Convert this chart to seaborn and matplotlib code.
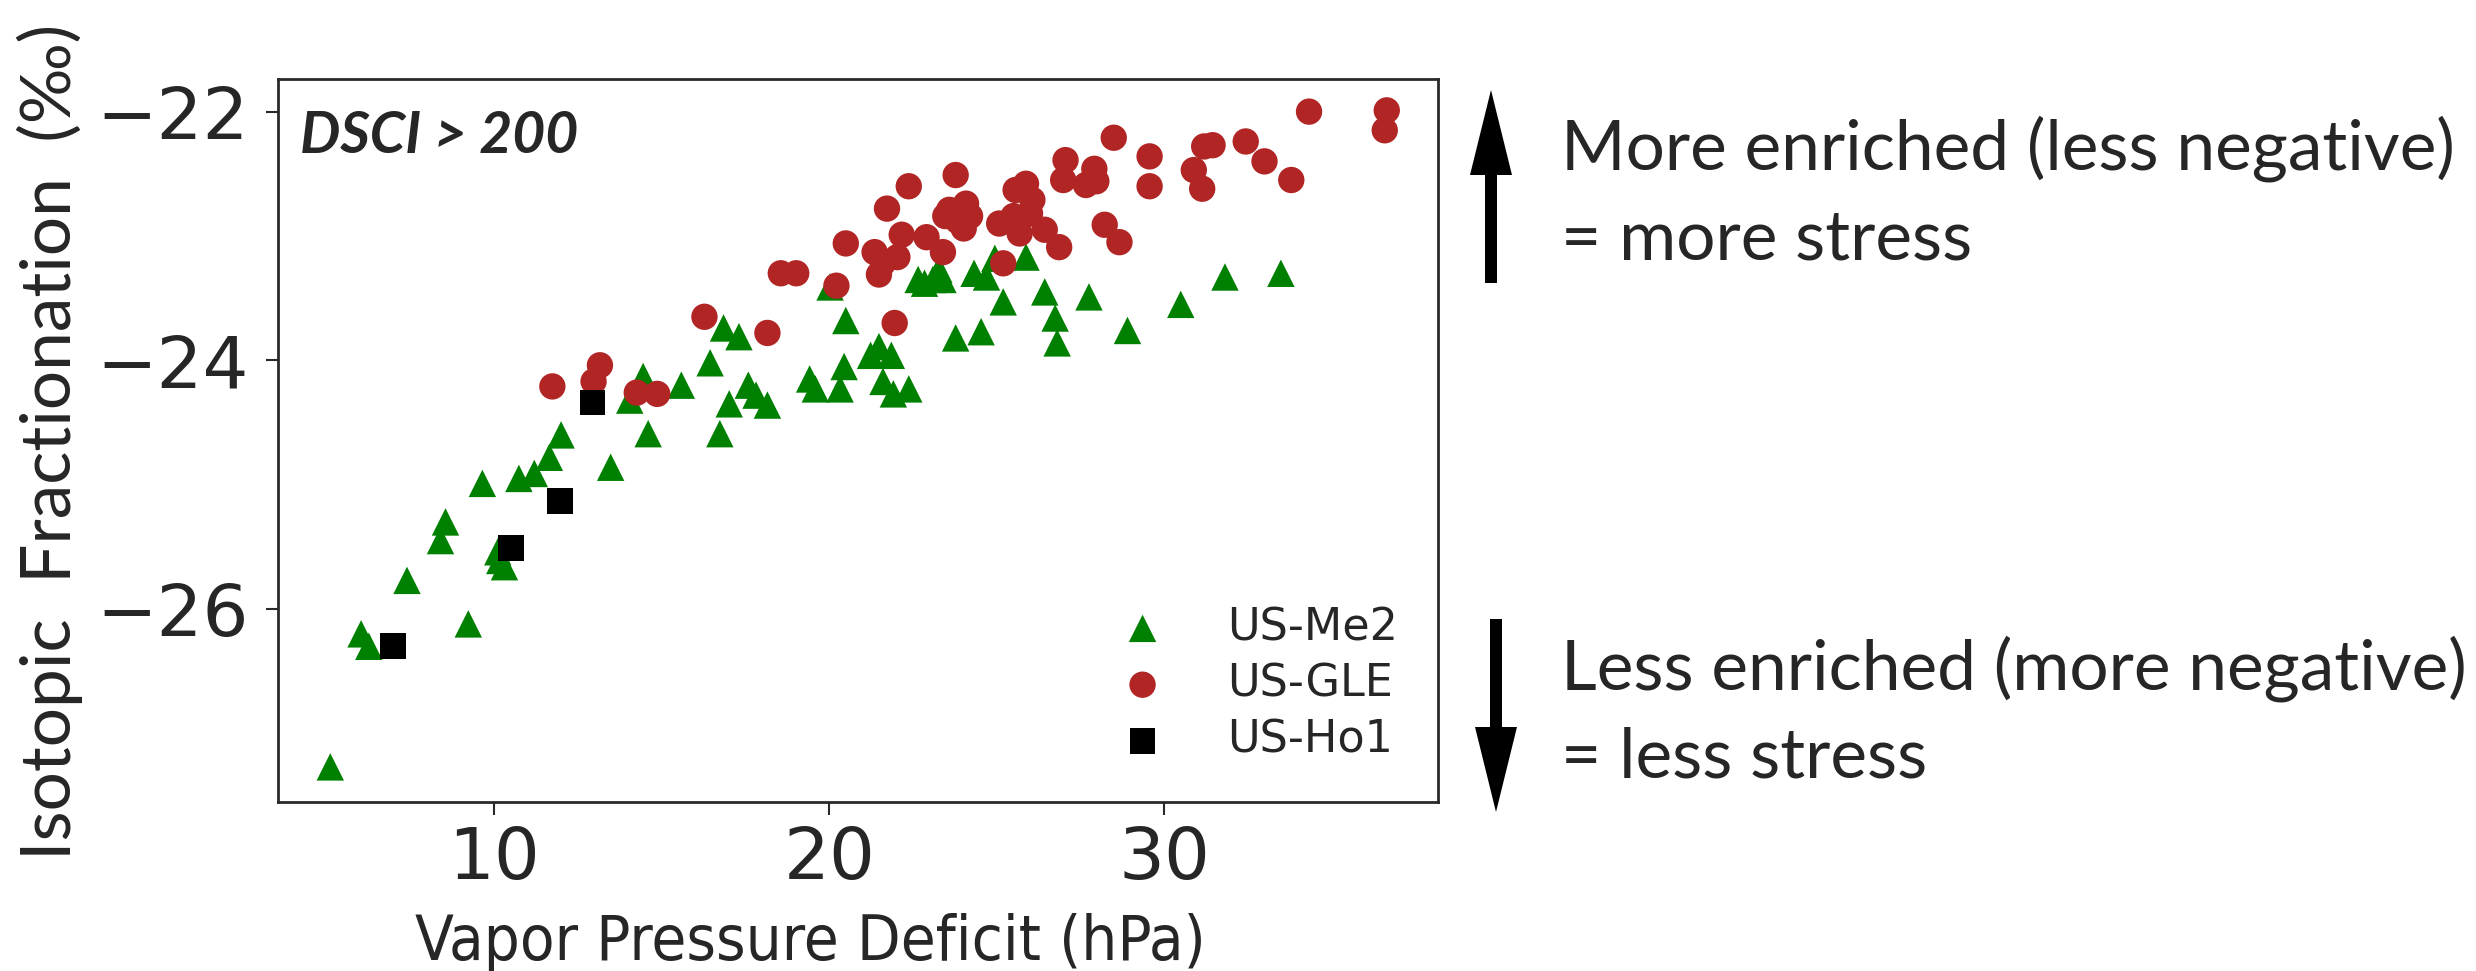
import numpy as np
import pandas as pd
import matplotlib
matplotlib.use("Agg")
import matplotlib.pyplot as plt
import seaborn as sns

# ---------------- data ----------------
sites = ["US-Me2", "US-GLE", "US-Ho1"]

me2_vpd = [20.49, 20.02, 16.84, 17.30, 16.44, 20.44, 19.41, 19.58, 20.32, 17.58, 17.81, 18.15,
           17.01, 15.58, 14.44, 14.04, 14.59, 16.73, 11.99, 11.64, 13.47, 11.19, 10.73, 9.64,
           8.54, 8.39, 7.39, 10.10, 10.16, 10.30, 9.22, 6.02, 6.25, 5.10, 33.48, 31.81, 30.49,
           27.75, 28.90, 26.43, 26.74, 26.80, 25.87, 25.19, 24.32, 24.69, 24.94, 22.65, 22.84,
           23.27, 23.09, 23.39, 23.77, 24.53, 21.48, 21.23, 21.85, 21.60, 21.91, 22.37]
me2_frac = [-23.68, -23.41, -23.74, -23.81, -24.02, -24.05, -24.15, -24.23, -24.23, -24.20,
            -24.28, -24.36, -24.35, -24.20, -24.13, -24.32, -24.59, -24.59, -24.60, -24.78,
            -24.86, -24.91, -24.95, -24.99, -25.30, -25.45, -25.77, -25.54, -25.61, -25.66,
            -26.12, -26.20, -26.30, -27.27, -23.30, -23.33, -23.55, -23.49, -23.76, -23.45,
            -23.66, -23.86, -23.17, -23.53, -23.30, -23.33, -23.18, -23.35, -23.38, -23.27,
            -23.35, -23.35, -23.82, -23.77, -23.89, -23.96, -23.96, -24.17, -24.27, -24.23]

gle_vpd = [20.49, 18.55, 19.01, 20.21, 16.27, 18.15, 13.15, 12.96, 11.73, 14.25, 14.86, 34.32,
           36.64, 36.58, 28.49, 29.56, 29.56, 31.19, 31.44, 30.88, 31.13, 32.43, 32.99, 33.79,
           27.05, 26.98, 27.91, 27.66, 27.97, 28.22, 28.66, 25.87, 25.56, 26.06, 25.99, 26.43,
           26.86, 25.07, 25.50, 25.68, 25.19, 23.77, 23.58, 24.08, 24.20, 23.83, 24.01, 23.46,
           22.37, 21.72, 22.16, 22.90, 23.39, 21.35, 22.03, 21.48, 21.60, 21.95]
gle_frac = [-23.06, -23.30, -23.30, -23.40, -23.65, -23.78, -24.04, -24.17, -24.21, -24.26,
            -24.27, -22.00, -21.99, -22.15, -22.21, -22.36, -22.60, -22.28, -22.27, -22.47,
            -22.62, -22.24, -22.40, -22.55, -22.39, -22.55, -22.46, -22.59, -22.56, -22.91,
            -23.05, -22.58, -22.63, -22.71, -22.82, -22.95, -23.09, -22.90, -22.84, -22.98,
            -23.22, -22.51, -22.79, -22.74, -22.84, -22.88, -22.94, -22.84, -22.60, -22.78,
            -22.99, -23.01, -23.13, -23.13, -23.17, -23.31, -23.22, -23.70]

ho1_vpd = [6.98, 10.50, 11.95, 12.93]
ho1_frac = [-26.30, -25.51, -25.13, -24.34]

x_ticks = [10, 20, 30]
y_ticks = [-22, -24, -26]

site_colors = {"US-Me2": "#008000", "US-GLE": "#B22525", "US-Ho1": "#000000"}
site_markers = {"US-Me2": "^", "US-GLE": "o", "US-Ho1": "s"}

df = pd.concat([
    pd.DataFrame({"vpd": me2_vpd, "frac": me2_frac, "site": "US-Me2"}),
    pd.DataFrame({"vpd": gle_vpd, "frac": gle_frac, "site": "US-GLE"}),
    pd.DataFrame({"vpd": ho1_vpd, "frac": ho1_frac, "site": "US-Ho1"}),
], ignore_index=True)

# ---------------- style ----------------
sns.set_style("ticks")
plt.rcParams["font.family"] = ["DejaVu Sans"]

W, H = 2476, 971
fig = plt.figure(figsize=(W / 100, H / 100), dpi=100)
ax = fig.add_axes([277.7 / W, 1 - 801.7 / H, (1438 - 277.7) / W, (801.7 - 79.3) / H])

sizes = {"US-Me2": 390, "US-GLE": 360, "US-Ho1": 340}
for site in sites:
    sub = df[df["site"] == site]
    sns.scatterplot(data=sub, x="vpd", y="frac", ax=ax, color=site_colors[site],
                    marker=site_markers[site], s=sizes[site], linewidth=0,
                    edgecolor="none", label=site, zorder=3)

ax.set_xlim(3.53, 38.17)
ax.set_ylim(-27.55, -21.74)
ax.set_xticks(x_ticks)
ax.set_yticks(y_ticks)
ax.set_xlabel("")
ax.set_ylabel("")
for sp in ax.spines.values():
    sp.set_linewidth(2.0)
    sp.set_color("#2a2a2a")
ax.tick_params(axis="both", which="major", length=9, width=1.5, color="#2a2a2a",
               labelsize=52, direction="out")
ax.tick_params(axis="y", pad=12)
ax.tick_params(axis="x", pad=8)

leg = ax.legend(loc="lower right", frameon=False, fontsize=32, handletextpad=0.9,
                labelspacing=0.3, borderaxespad=0.5, borderpad=0.4,
                scatterpoints=1)

# x label
fig.text(810 / W, 1 - 960 / H, "Vapor Pressure Deficit (hPa)", ha="center", va="baseline",
         fontsize=45.5, family=["DejaVu Sans"], stretch="condensed")

# y label
fig.text(50 / W, 1 - 442 / H, "Isotopic  Fractionation  (\u2030)", rotation=90,
         ha="center", va="center", fontsize=50, family=["Lato", "DejaVu Sans"])

# panel tag
fig.text(300 / W, 1 - 153 / H, "DSCI > 200", ha="left", va="baseline", fontsize=41,
         fontweight="bold", fontstyle="italic", family=["Lato", "DejaVu Sans"])

# right-hand annotations
txt_kw = dict(ha="left", va="baseline", fontsize=50, family=["Lato", "DejaVu Sans"])
fig.text(1561 / W, 1 - 169 / H, "More enriched (less negative)", **txt_kw)
fig.text(1561 / W, 1 - 259 / H, "= more stress", **txt_kw)
fig.text(1561 / W, 1 - 690 / H, "Less enriched (more negative)", **txt_kw)
fig.text(1561 / W, 1 - 777 / H, "= less stress", **txt_kw)

arrow_props = dict(arrowstyle="simple,head_length=0.85,head_width=0.42,tail_width=0.12",
                   lw=0, color="black", mutation_scale=72, shrinkA=0, shrinkB=0)
ax.annotate("", xy=(1491, H - 90), xytext=(1491, H - 283), xycoords="figure pixels",
            textcoords="figure pixels", arrowprops=arrow_props, annotation_clip=False)
ax.annotate("", xy=(1496, H - 812), xytext=(1496, H - 619), xycoords="figure pixels",
            textcoords="figure pixels", arrowprops=arrow_props, annotation_clip=False)

fig.savefig("out.png", dpi=100, facecolor="white")
